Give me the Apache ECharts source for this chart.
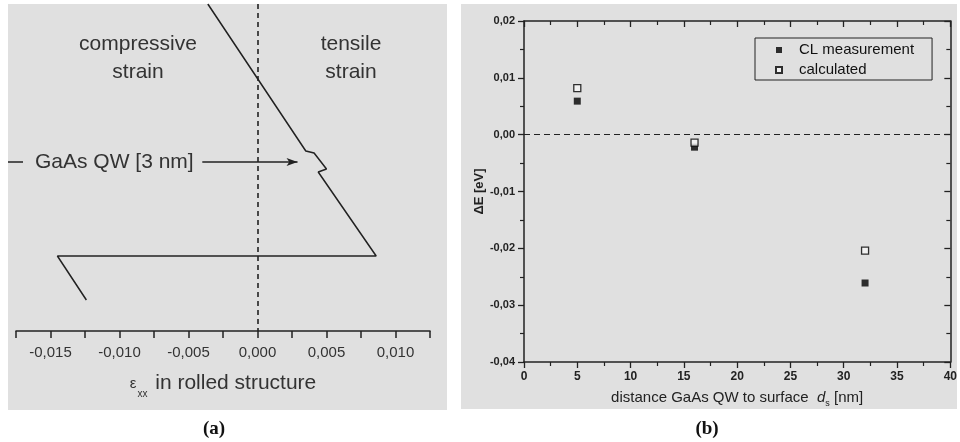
<!DOCTYPE html>
<html><head><meta charset="utf-8">
<script src="https://cdn.jsdelivr.net/npm/echarts@6/dist/echarts.min.js"></script>
<style>html,body{margin:0;padding:0;background:#fff}#c{width:960px;height:442px}</style>
</head><body><div id="c"></div>
<script>
// ---------- Panel (a): strain profile in rolled structure ----------
const strainX = [-0.0036, 0.0035, 0.0041, 0.0050, 0.0044, 0.0086, -0.0145, -0.0124];
const depthY  = [0, 147, 149, 165, 168, 252, 252, 296];
const strainTickLabels = ['-0,015', '-0,010', '-0,005', '0,000', '0,005', '0,010'];
const arrowX = [-0.0040, 0.0029];
const arrowDepth = 158;

// ---------- Panel (b): energy shift vs distance ----------
const distance = [5, 16, 32];
const clMeasurement = [0.0059, -0.0022, -0.0261];
const calculated = [0.0082, -0.0014, -0.0204];
const distTickLabels = ['0', '5', '10', '15', '20', '25', '30', '35', '40'];
const dETickLabels = ['-0,04', '-0,03', '-0,02', '-0,01', '0,00', '0,01', '0,02'];

const SANS = 'Liberation Sans, Arial, Helvetica, sans-serif';
const INK = '#222';

const chart = echarts.init(document.getElementById('c'), null, {renderer: 'canvas'});

function strainLabel(v) {
  const k = Math.round(v / 0.0025);
  if (k % 2 !== 0) return '';
  const i = Math.round((v + 0.015) / 0.005);
  return strainTickLabels[i] !== undefined ? strainTickLabels[i] : '';
}
function distLabel(v) {
  const i = Math.round(v / 5);
  return distTickLabels[i] !== undefined ? distTickLabels[i] : '';
}
function dELabel(v) {
  const i = Math.round((v + 0.04) / 0.01);
  return dETickLabels[i] !== undefined ? dETickLabels[i] : '';
}

const option = {
  animation: false,
  backgroundColor: '#fff',
  textStyle: {fontFamily: SANS},
  grid: [
    {left: 16, top: 4, width: 414, height: 327},
    {left: 524, top: 21, width: 429, height: 341}
  ],
  xAxis: [
    {
      type: 'value', gridIndex: 0, min: -0.0175, max: 0.0125, interval: 0.0025, position: 'bottom',
      axisLine: {show: true, onZero: false, lineStyle: {color: INK, width: 1.5}},
      axisTick: {show: true, inside: false, length: 7, lineStyle: {color: INK, width: 1.5}},
      axisLabel: {formatter: strainLabel, fontSize: 15, color: '#333', margin: 14, fontFamily: SANS},
      splitLine: {show: false},
      name: '{e|ε}{s|xx} in rolled structure',
      nameLocation: 'middle', nameGap: 37,
      nameTextStyle: {
        fontSize: 21, color: '#333', fontFamily: SANS, lineHeight: 31,
        rich: {
          e: {fontSize: 15, color: '#333', fontFamily: SANS, padding: [0, 1, 0, 0]},
          s: {fontSize: 10, color: '#333', fontFamily: SANS, verticalAlign: 'bottom', lineHeight: 10, padding: [0, 2, 0, 0]}
        }
      }
    },
    {
      type: 'value', gridIndex: 1, min: 0, max: 40, interval: 5,
      axisLine: {show: true, onZero: false, lineStyle: {color: INK, width: 1.5}},
      axisTick: {show: true, inside: false, length: 6, lineStyle: {color: INK, width: 1.3}},
      minorTick: {show: true, splitNumber: 2, length: 4, lineStyle: {color: INK, width: 1.2}},
      axisLabel: {formatter: distLabel, fontSize: 12, fontWeight: 'bold', color: INK, margin: 9, fontFamily: SANS},
      splitLine: {show: false},
      name: 'distance GaAs QW to surface  {d|d}{s|s} [nm]',
      nameLocation: 'middle', nameGap: 23,
      nameTextStyle: {
        fontSize: 15, color: INK, fontFamily: SANS, lineHeight: 20,
        rich: {
          d: {fontSize: 15, fontStyle: 'italic', color: INK, fontFamily: SANS},
          s: {fontSize: 9, color: INK, fontFamily: SANS, verticalAlign: 'bottom', lineHeight: 9}
        }
      }
    },
    {
      type: 'value', gridIndex: 1, min: 0, max: 40, interval: 5, position: 'top',
      axisLine: {show: true, onZero: false, lineStyle: {color: INK, width: 1.5}},
      axisTick: {show: true, inside: true, length: 6, lineStyle: {color: INK, width: 1.3}},
      minorTick: {show: true, splitNumber: 2, length: 4, lineStyle: {color: INK, width: 1.2}},
      axisLabel: {show: false},
      splitLine: {show: false}
    }
  ],
  yAxis: [
    {type: 'value', gridIndex: 0, min: 0, max: 327, inverse: true, show: false},
    {
      type: 'value', gridIndex: 1, min: -0.04, max: 0.02, interval: 0.01,
      axisLine: {show: true, onZero: false, lineStyle: {color: INK, width: 1.5}},
      axisTick: {show: true, inside: false, length: 6, lineStyle: {color: INK, width: 1.3}},
      minorTick: {show: true, splitNumber: 2, length: 4, lineStyle: {color: INK, width: 1.2}},
      axisLabel: {formatter: dELabel, fontSize: 11, fontWeight: 'bold', color: INK, margin: 9, fontFamily: SANS},
      splitLine: {show: false},
      name: 'ΔE [eV]', nameLocation: 'middle', nameGap: 32, nameRotate: 90,
      nameTextStyle: {fontSize: 13, fontWeight: 'bold', color: INK, fontFamily: SANS}
    },
    {
      type: 'value', gridIndex: 1, min: -0.04, max: 0.02, interval: 0.01, position: 'right',
      axisLine: {show: true, onZero: false, lineStyle: {color: INK, width: 1.5}},
      axisTick: {show: true, inside: true, length: 6, lineStyle: {color: INK, width: 1.3}},
      minorTick: {show: true, splitNumber: 2, length: 4, lineStyle: {color: INK, width: 1.2}},
      axisLabel: {show: false},
      splitLine: {show: false}
    }
  ],
  legend: {
    left: 755, top: 38, orient: 'vertical',
    data: ['CL measurement', 'calculated'],
    icon: 'rect', itemWidth: 6, itemHeight: 6, itemGap: 4,
    borderColor: INK, borderWidth: 1, borderRadius: 0,
    padding: [4, 18, 2, 20],
    selectedMode: false,
    textStyle: {fontSize: 15, color: '#111', fontFamily: SANS, lineHeight: 16, padding: [0, 0, 0, 12]}
  },
  series: [
    {
      name: 'strain', type: 'line', xAxisIndex: 0, yAxisIndex: 0,
      data: strainX.map((x, i) => [x, depthY[i]]),
      showSymbol: false, symbol: 'none', silent: true,
      lineStyle: {color: INK, width: 1.5},
      markLine: {
        silent: true, symbol: 'none', animation: false,
        label: {show: false},
        lineStyle: {color: INK, width: 1.6, type: [5, 4]},
        data: [
          {xAxis: 0},
          [
            {coord: [arrowX[0], arrowDepth], symbol: 'none', lineStyle: {type: 'solid', width: 1.5, color: INK}},
            {coord: [arrowX[1], arrowDepth], symbol: 'arrow', symbolSize: [6, 11]}
          ]
        ]
      }
    },
    {
      name: 'CL measurement', type: 'scatter', xAxisIndex: 1, yAxisIndex: 1,
      data: distance.map((x, i) => [x, clMeasurement[i]]),
      symbol: 'rect', symbolSize: 7, z: 3,
      itemStyle: {color: '#000'},
      markLine: {
        silent: true, symbol: 'none', animation: false,
        label: {show: false},
        lineStyle: {color: INK, width: 1.2, type: [6, 4]},
        data: [{yAxis: 0}]
      }
    },
    {
      name: 'calculated', type: 'scatter', xAxisIndex: 1, yAxisIndex: 1,
      data: distance.map((x, i) => [x, calculated[i]]),
      symbol: 'rect', symbolSize: 7, z: 4,
      itemStyle: {color: '#f6f6f6', borderColor: '#000', borderWidth: 1.3}
    }
  ],
  graphic: {
    elements: [
      {type: 'rect', z: -100, shape: {x: 8, y: 4, width: 439, height: 406}, style: {fill: '#e0e0e0'}},
      {type: 'rect', z: -100, shape: {x: 461, y: 4, width: 496, height: 405}, style: {fill: '#e0e0e0'}},
      {type: 'text', z: 100, x: 138, y: 58, style: {text: 'compressive\nstrain', font: '21px ' + SANS, fill: '#333', align: 'center', verticalAlign: 'middle', lineHeight: 28}},
      {type: 'text', z: 100, x: 351, y: 58, style: {text: 'tensile\nstrain', font: '21px ' + SANS, fill: '#333', align: 'center', verticalAlign: 'middle', lineHeight: 28}},
      {type: 'text', z: 100, x: 35, y: 162, style: {text: 'GaAs QW [3 nm]', font: '21px ' + SANS, fill: '#333', align: 'left', verticalAlign: 'middle'}},
      {type: 'line', z: 100, shape: {x1: 8, y1: 162, x2: 23, y2: 162}, style: {stroke: INK, lineWidth: 1.5}},
      {type: 'text', z: 100, x: 214, y: 429, style: {text: '(a)', font: 'bold 19px Liberation Serif, Times New Roman, serif', fill: '#111', align: 'center', verticalAlign: 'middle'}},
      {type: 'text', z: 100, x: 707, y: 429, style: {text: '(b)', font: 'bold 19px Liberation Serif, Times New Roman, serif', fill: '#111', align: 'center', verticalAlign: 'middle'}}
    ]
  }
};
chart.setOption(option);
</script>
</body></html>
